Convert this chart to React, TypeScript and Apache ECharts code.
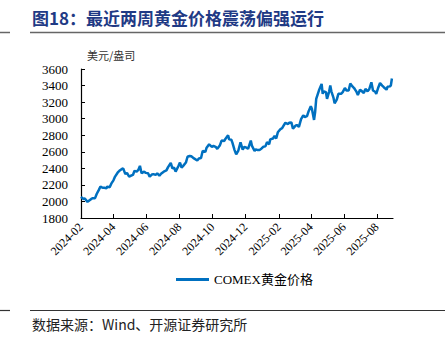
import React, { useEffect, useRef } from "react";
import * as echarts from "echarts";

const dates: string[] = [
  "2024-02-01","2024-02-05","2024-02-08","2024-02-13","2024-02-15","2024-02-20","2024-02-23","2024-02-27",
  "2024-03-01","2024-03-05","2024-03-08","2024-03-12","2024-03-15","2024-03-19","2024-03-21","2024-03-25","2024-03-28",
  "2024-04-01","2024-04-04","2024-04-09","2024-04-12","2024-04-16","2024-04-19","2024-04-23","2024-04-26","2024-04-30",
  "2024-05-03","2024-05-07","2024-05-10","2024-05-14","2024-05-17","2024-05-20","2024-05-23","2024-05-28","2024-05-31",
  "2024-06-04","2024-06-07","2024-06-11","2024-06-14","2024-06-18","2024-06-21","2024-06-25","2024-06-28",
  "2024-07-03","2024-07-08","2024-07-11","2024-07-16","2024-07-19","2024-07-22","2024-07-25","2024-07-30",
  "2024-08-02","2024-08-05","2024-08-08","2024-08-13","2024-08-16","2024-08-20","2024-08-23","2024-08-28",
  "2024-09-03","2024-09-06","2024-09-10","2024-09-13","2024-09-18","2024-09-20","2024-09-25","2024-09-30",
  "2024-10-03","2024-10-07","2024-10-10","2024-10-15","2024-10-18","2024-10-23","2024-10-25","2024-10-30",
  "2024-11-01","2024-11-05","2024-11-07","2024-11-11","2024-11-14","2024-11-18","2024-11-22","2024-11-26","2024-11-29",
  "2024-12-03","2024-12-06","2024-12-11","2024-12-13","2024-12-18","2024-12-20","2024-12-24","2024-12-27","2024-12-31",
  "2025-01-03","2025-01-07","2025-01-10","2025-01-14","2025-01-16","2025-01-21","2025-01-24","2025-01-27","2025-01-30",
  "2025-02-04","2025-02-07","2025-02-11","2025-02-13","2025-02-18","2025-02-20","2025-02-24","2025-02-27",
  "2025-03-03","2025-03-06","2025-03-10","2025-03-14","2025-03-18","2025-03-21","2025-03-25","2025-03-28",
  "2025-04-01","2025-04-03","2025-04-07","2025-04-09","2025-04-11","2025-04-16","2025-04-21","2025-04-23","2025-04-25","2025-04-29",
  "2025-05-01","2025-05-05","2025-05-07","2025-05-09","2025-05-13","2025-05-15","2025-05-19","2025-05-22","2025-05-27","2025-05-30",
  "2025-06-03","2025-06-06","2025-06-10","2025-06-13","2025-06-17","2025-06-20","2025-06-24","2025-06-27",
  "2025-07-01","2025-07-03","2025-07-08","2025-07-11","2025-07-15","2025-07-18","2025-07-22","2025-07-25","2025-07-29","2025-07-31",
  "2025-08-04","2025-08-07","2025-08-11","2025-08-14","2025-08-19","2025-08-21","2025-08-25","2025-08-27","2025-08-29",
];

const prices: number[] = [
  2055, 2030, 2035, 1995, 2005, 2030, 2040, 2040,
  2090, 2140, 2180, 2165, 2165, 2160, 2180, 2170, 2215,
  2255, 2300, 2350, 2370, 2390, 2400, 2330, 2345, 2300,
  2310, 2320, 2370, 2360, 2380, 2430, 2340, 2360, 2345,
  2340, 2300, 2325, 2330, 2320, 2340, 2310, 2335,
  2360, 2375, 2415, 2465, 2400, 2410, 2360, 2425,
  2470, 2410, 2430, 2470, 2540, 2550, 2545, 2520,
  2495, 2520, 2525, 2610, 2600, 2645, 2690, 2660,
  2670, 2660, 2635, 2680, 2735, 2730, 2755, 2800,
  2750, 2745, 2710, 2620, 2570, 2615, 2715, 2625, 2660,
  2650, 2635, 2735, 2675, 2610, 2630, 2620, 2620, 2640,
  2660, 2665, 2715, 2690, 2750, 2760, 2790, 2760, 2835,
  2875, 2885, 2930, 2950, 2935, 2950, 2955, 2880,
  2910, 2925, 2900, 2995, 3040, 3020, 3030, 3090,
  3150, 3120, 2985, 3080, 3240, 3340, 3420, 3300, 3330, 3320,
  3240, 3330, 3400, 3330, 3250, 3185, 3230, 3300, 3300, 3320,
  3370, 3340, 3340, 3425, 3390, 3370, 3330, 3285,
  3350, 3340, 3310, 3360, 3330, 3355, 3440, 3340, 3325, 3300,
  3380, 3430, 3400, 3380, 3350, 3385, 3390, 3400, 3485,
];

const axisStart = "2024-02-01";
const axisEnd = "2025-08-31";
const yTicks = { min: 1800, max: 3600, interval: 200 };
const seriesName = "COMEX黄金价格";
const titleText = "图18：最近两周黄金价格震荡偏强运行";
const unitText = "美元/盎司";
const sourceText = "数据来源：Wind、开源证券研究所";

function buildDays(start: string, end: string): string[] {
  const out: string[] = [];
  const d = new Date(start + "T00:00:00Z");
  const e = new Date(end + "T00:00:00Z");
  while (d.getTime() <= e.getTime()) {
    out.push(d.toISOString().slice(0, 10));
    d.setUTCDate(d.getUTCDate() + 1);
  }
  return out;
}

const SERIF = "'Liberation Serif', 'Times New Roman', 'Noto Sans CJK SC', serif";
const CJK = "'Noto Sans CJK SC', 'Liberation Serif', serif";

export default function App() {
  const ref = useRef<HTMLDivElement>(null);
  useEffect(() => {
    if (!ref.current) return;
    const chart = echarts.init(ref.current, null, { renderer: "svg" });
    const days = buildDays(axisStart, axisEnd);
    const lookup: Record<string, number> = {};
    dates.forEach((d, i) => (lookup[d] = prices[i]));
    const seriesData = days.map((d) => (d in lookup ? lookup[d] : null));
    const isTick = (_i: number, v: string) =>
      v.endsWith("-01") && parseInt(v.slice(5, 7), 10) % 2 === 0;

    chart.setOption({
      animation: false,
      backgroundColor: "#ffffff",
      grid: { left: 81, right: 52, top: 69, bottom: 128, containLabel: false },
      legend: {
        data: [seriesName],
        left: 171,
        top: 268,
        icon: "rect",
        itemWidth: 33,
        itemHeight: 3,
        itemGap: 4,
        textStyle: { fontFamily: SERIF, fontSize: 13, color: "#000" },
      },
      xAxis: {
        type: "category",
        data: days,
        boundaryGap: false,
        axisLine: { lineStyle: { color: "#000", width: 1.2 } },
        axisTick: { inside: true, length: 4, interval: isTick, lineStyle: { color: "#000" } },
        axisLabel: {
          interval: isTick,
          rotate: 45,
          margin: 7,
          fontFamily: SERIF,
          fontSize: 12,
          color: "#000",
          formatter: (v: string) => v.slice(0, 7),
        },
        splitLine: { show: false },
      },
      yAxis: {
        type: "value",
        min: yTicks.min,
        max: yTicks.max,
        interval: yTicks.interval,
        axisLine: { show: true, lineStyle: { color: "#000", width: 1.2 } },
        axisTick: { show: true, inside: true, length: 4, lineStyle: { color: "#000" } },
        axisLabel: {
          fontFamily: SERIF,
          fontSize: 13,
          color: "#000",
          margin: 13,
          formatter: (v: number) => String(v),
        },
        splitLine: { show: false },
      },
      series: [
        {
          name: seriesName,
          type: "line",
          data: seriesData,
          connectNulls: true,
          showSymbol: false,
          symbol: "none",
          color: "#0070C0",
          lineStyle: { width: 2.5, color: "#0070C0" },
        },
      ],
      graphic: [
        {
          type: "text",
          left: 32,
          top: 9,
          style: { text: titleText, font: `bold 17px ${CJK}`, fill: "#1F3A85" },
        },
        { type: "line", shape: { x1: 0, y1: 32.5, x2: 10, y2: 32.5 }, style: { stroke: "#666", lineWidth: 1.5 } },
        { type: "line", shape: { x1: 30, y1: 32.5, x2: 445, y2: 32.5 }, style: { stroke: "#666", lineWidth: 1.5 } },
        {
          type: "text",
          left: 87,
          top: 49,
          style: { text: unitText, font: `11px ${CJK}`, fill: "#333" },
        },
        { type: "line", shape: { x1: 0, y1: 310.5, x2: 10, y2: 310.5 }, style: { stroke: "#333", lineWidth: 1.2 } },
        { type: "line", shape: { x1: 30, y1: 310.5, x2: 445, y2: 310.5 }, style: { stroke: "#333", lineWidth: 1.2 } },
        {
          type: "text",
          left: 32,
          top: 317,
          style: { text: sourceText, font: `14px ${CJK}`, fill: "#222" },
        },
      ],
    });
    return () => chart.dispose();
  }, []);
  return (
    <div
      ref={ref}
      style={{ position: "fixed", left: 0, top: 0, width: 445, height: 346, background: "#fff" }}
    />
  );
}
